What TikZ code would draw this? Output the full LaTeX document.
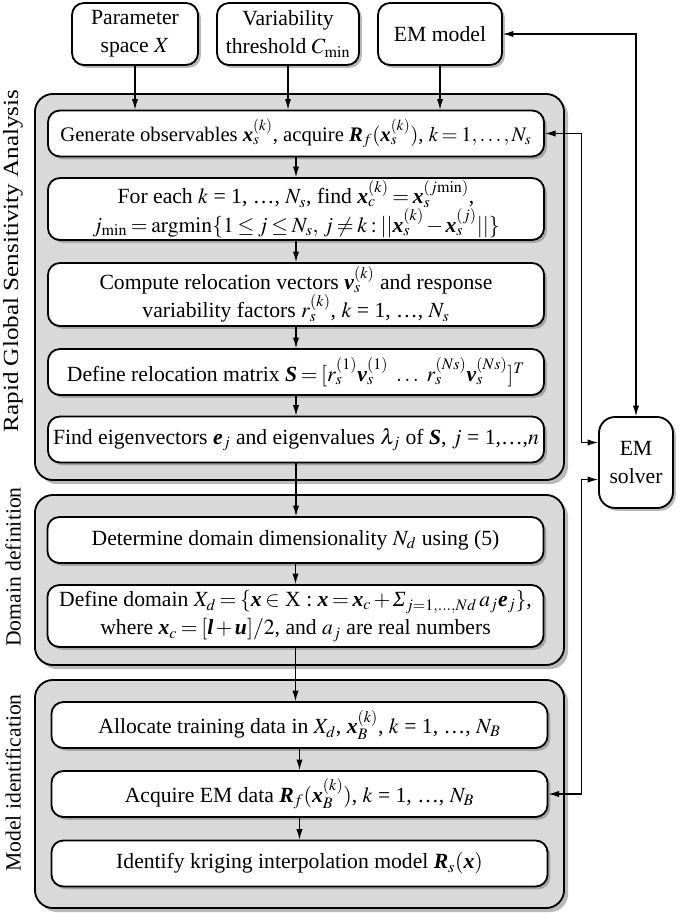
\documentclass[tikz,border=0pt]{standalone}
\usepackage{mathptmx}
\usepackage{fontspec}
\setmainfont{Liberation Serif}
\usepackage{tikz}
\usetikzlibrary{calc,shadows,arrows.meta}
\newcommand\bv[1]{\textbf{\textit{#1}}}
\medmuskip=2mu plus 1mu minus 1mu
\thickmuskip=3mu plus 2mu
\def\stepnode{\node[stepbox]}
\def\groupnode{\node[groupbox]}
\def\drawflow{\draw[flow]}

\begin{document}
\begin{tikzpicture}[x=0.025cm,y=-0.025cm,
  font=\fontsize{15.4}{20}\selectfont,
  flow/.style={line width=0.8pt,>={Latex[length=7.5pt,width=4.5pt]},->},
  twoway/.style={flow,<->},
  stepbox/.style={draw,line width=1.3pt,rounded corners=0.3cm,fill=white,align=center,
    minimum width=12.4cm,minimum height=1.15cm,inner sep=1pt,
    drop shadow={shadow xshift=0.07cm,shadow yshift=-0.07cm,fill=black!55}},
  groupbox/.style={draw,line width=1.3pt,rounded corners=0.45cm,fill=black!15,
    minimum width=13.225cm,
    drop shadow={shadow xshift=0.1cm,shadow yshift=-0.1cm,fill=black!55}},
  grouplabel/.style={rotate=90}]
\useasboundingbox (0,0) rectangle (685,922);

% ---------- the three inputs on top
\stepnode[minimum width=3.15cm,minimum height=1.55cm] (space) at (135,34) {Parameter\\space $X$};
\stepnode[minimum width=3.55cm,minimum height=1.55cm] (thresh) at (288,34) {Variability\\threshold $C_{\min}$};
\stepnode[minimum width=3.1cm,minimum height=1.55cm] (emmodel) at (440,34) {EM model};

% ---------- grey frames of the three stages
\groupnode[minimum height=9.65cm] (rgsa) at (299.5,287) {};
\groupnode[minimum height=4.25cm] (domain) at (299.5,580) {};
\groupnode[minimum height=5.7cm] (ident) at (299.5,794) {};
\node[grouplabel] (rgsalab) at (13,261) {\scalebox{1.16}[1]{Rapid Global Sensitivity Analysis}};
\node[grouplabel] (domlab) at (13,567) {Domain definition};
\node[grouplabel] (identlab) at (13,783) {Model identification};

% ---------- Rapid Global Sensitivity Analysis
\stepnode[font=\fontsize{14.7}{20}\selectfont] (gen) at (296,133.5) {Generate observables $\bv{x}_s^{(k)}$, acquire $\bv{R}_f(\bv{x}_s^{(k)})$, $k = 1,\ldots,N_s$};
\stepnode[minimum height=1.55cm] (near) at (296,209) {For each $k$ = 1, \ldots, $N_s$, find $\bv{x}_c^{(k)} = \bv{x}_s^{(j\mathrm{min})}$,\\$j_{\min} = \mathrm{argmin}\{1\le j\le N_s,\, j\ne k : ||\bv{x}_s^{(k)} - \bv{x}_s^{(j)}||\}$};
\stepnode[minimum height=1.575cm] (reloc) at (296,294.5) {Compute relocation vectors $\bv{v}_s^{(k)}$ and response\\variability factors $r_s^{(k)}$, $k$ = 1, \ldots, $N_s$};
\stepnode (matrix) at (296,372) {Define relocation matrix $\bv{S} = [r_s^{(1)}\bv{v}_s^{(1)}\ \ldots\ r_s^{(Ns)}\bv{v}_s^{(Ns)}]^T$};
\stepnode (eigen) at (296,439.5) {Find eigenvectors $\bv{e}_j$ and eigenvalues $\lambda_j$ of $\bv{S}$, $j$ = 1,\ldots,$n$};

% ---------- Domain definition
\stepnode (dim) at (295.5,540) {Determine domain dimensionality $N_d$ using (5)};
\stepnode[minimum height=1.55cm] (dom) at (295.5,616) {Define domain $X_d = \{\bv{x}\in$ X : $\bv{x} = \bv{x}_c + \textit{Σ}_{j=1,\ldots,Nd}\,a_j\bv{e}_j\}$,\\where $\bv{x}_c = [\bv{l} + \bv{u}]/2$, and $a_j$ are real numbers};

% ---------- Model identification
\stepnode (train) at (299.5,725) {Allocate training data in $X_d$, $\bv{x}_B^{(k)}$, $k$ = 1, \ldots, $N_B$};
\stepnode (acq) at (299.5,794) {Acquire EM data $\bv{R}_f(\bv{x}_B^{(k)})$, $k$ = 1, \ldots, $N_B$};
\stepnode (krig) at (299.5,863.5) {Identify kriging interpolation model $\bv{R}_s(\bv{x})$};

% ---------- the solver on the right
\stepnode[minimum width=1.85cm,minimum height=2.275cm,rounded corners=0.4cm] (solver) at (636,462.5) {EM\\solver};

% flow down the stages
\foreach \a/\b in {gen/near,near/reloc,reloc/matrix,matrix/eigen,eigen/dim,dim/dom,dom/train,train/acq,acq/krig}
  \drawflow (\a.south) -- (\a.south |- \b.north);
\foreach \n in {space,thresh,emmodel}
  \drawflow (\n.south) -- (\n.south |- gen.north);

% links to and from the solver
\coordinate (solverin) at ($(solver.west)+(0,-20)$);
\coordinate (solverout) at ($(solver.west)+(0,17)$);
\draw[twoway] (emmodel.east) -| (solver.north);
\draw[twoway] (gen.east) -| ($(solverin)+(-17,0)$) -- (solverin);
\draw[twoway] (acq.east) -| ($(solverout)+(-17,0)$) -- (solverout);
\end{tikzpicture}
\end{document}
